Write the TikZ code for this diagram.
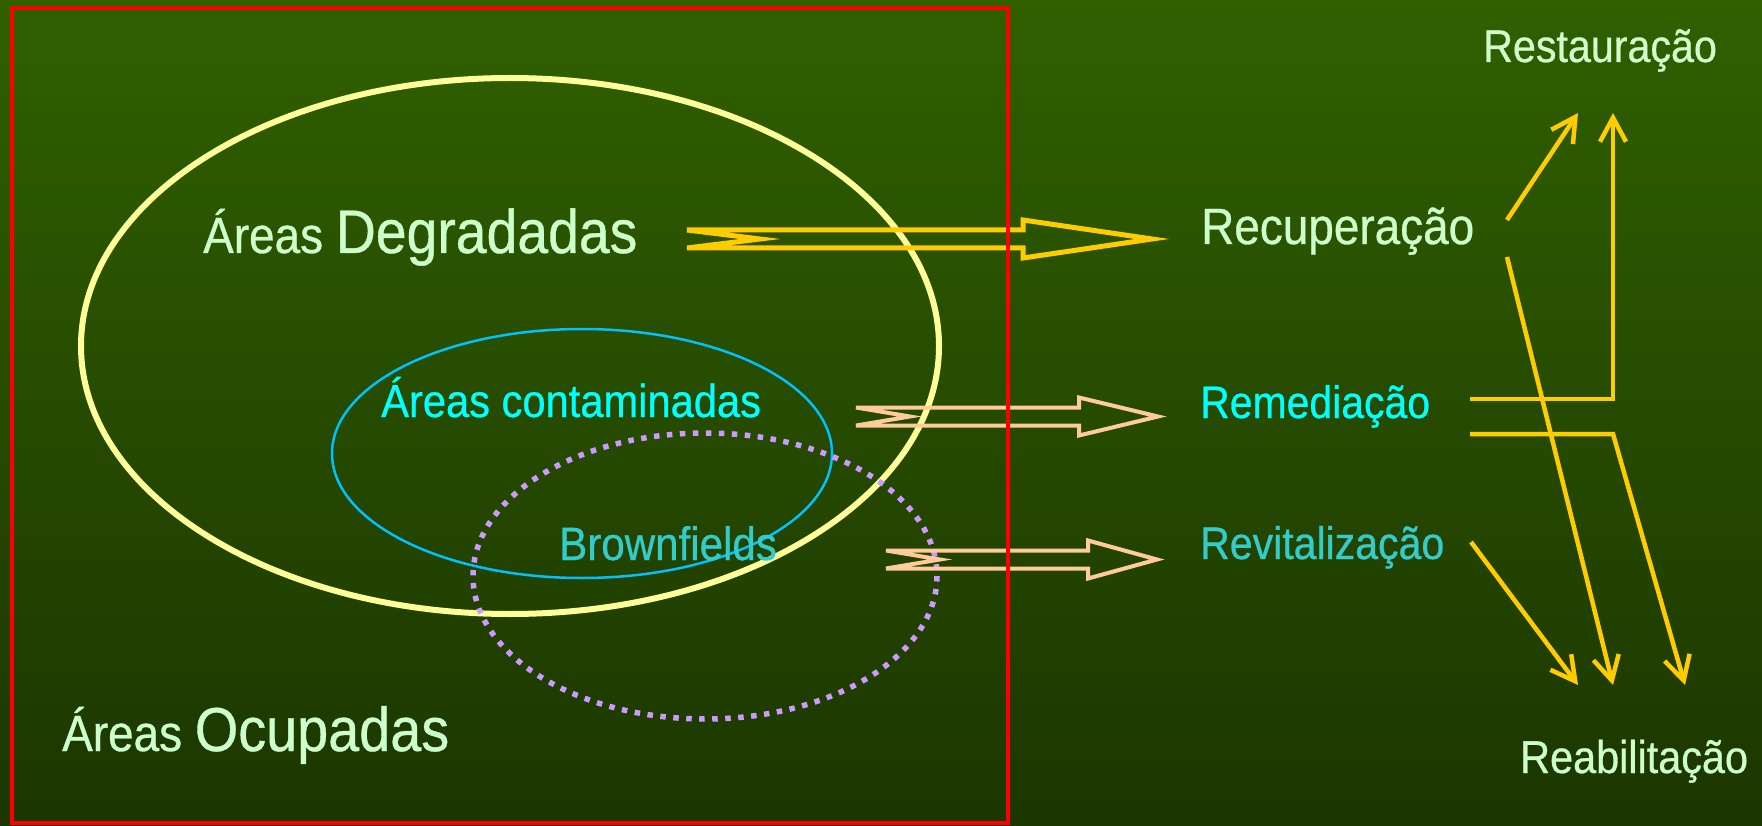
\documentclass[tikz,border=0pt]{standalone}
\usepackage{fontspec}
\setmainfont[FakeStretch=0.9, FakeBold=0.6]{Liberation Sans}
\usepackage{tikz}
\usetikzlibrary{arrows.meta}
\usetikzlibrary{calc}
\usetikzlibrary{positioning}
\definecolor{fundocima}{RGB}{48,96,0}
\definecolor{fundobaixo}{RGB}{28,54,0}
\definecolor{verdeclaro}{HTML}{CCFFCC}
\definecolor{amarelo}{HTML}{FFCC00}
\definecolor{amareloclaro}{HTML}{FFFF99}
\definecolor{pessego}{HTML}{FFCC99}
\definecolor{lilas}{HTML}{CC99FF}
\definecolor{azul}{HTML}{00C0FF}
\definecolor{ciano}{HTML}{00FFFF}
\definecolor{turquesa}{HTML}{33CCCC}
\newcommand{\tam}[1]{\fontsize{#1}{#1}\selectfont}
\newcommand{\blocoseta}[5]{%
  \draw [#1] ($(#2)+(0,-9)$) -- ($(#3)+(-#4,-9)$) -- ($(#3)+(-#4,-19)$) -- (#3)
    -- ($(#3)+(-#4,19)$) -- ($(#3)+(-#4,9)$) -- ($(#2)+(0,9)$) -- ($(#2)+(#5,0)$) -- cycle;}
\tikzset{rotulo/.style = {anchor=base west, inner sep=0pt, text=verdeclaro},
         seta/.style = {draw=amarelo, line width=4.5pt, line join=miter,
                        -{Straight Barb[length=24pt, width=26pt]}},
         bloco/.style = {line width=4pt, line join=miter}}

\begin{document}
\begin{tikzpicture}[x=1pt, y=-1pt]
  \useasboundingbox (0,0) rectangle (1762,826);
  \fill [top color=fundocima, bottom color=fundobaixo] (0,0) rectangle (1762,826);

  \draw [amareloclaro, line width=6pt] (510,346) ellipse [x radius=429, y radius=268];
  \draw [azul, line width=2.5pt] (582,453.5) ellipse [x radius=250, y radius=124.5];
  \draw [lilas, line width=5.5pt, dash pattern=on 5.5pt off 7.5pt] (705,576) ellipse [x radius=232, y radius=143];

  \node [rotulo] (degradadas) at (203,253) {\tam{51}Áreas \tam{61.5}Degradadas};
  \node [rotulo] (ocupadas) at (62,751) {\tam{51}Áreas \tam{62}Ocupadas};
  \node [rotulo, text=ciano] (contaminadas) at (381,417) {\tam{46.3}Áreas contaminadas};
  \node [rotulo, text=turquesa] (brownfields) at (559,560) {\tam{46.8}Brownfields};
  \node [rotulo] (recuperacao) at (1201,244) {\tam{51}Recuperação};
  \node [rotulo, text=ciano] (remediacao) at (1200,418) {\tam{45.5}Remediação};
  \node [rotulo, text=turquesa] (revitalizacao) at (1200,559) {\tam{45.6}Revitalização};
  \node [rotulo] (restauracao) at (1483,62) {\tam{45.8}Restauração};
  \node [rotulo] (reabilitacao) at (1520,773) {\tam{46}Reabilitação};

  \coordinate (d1) at (687,239);
  \coordinate (d2) at (1152,239);
  \coordinate (c1) at (856,416.5);
  \coordinate (c2) at (1158,416.5);
  \coordinate (b1) at (886,559.5);
  \coordinate (b2) at (1157,559.5);
  \blocoseta{bloco, amarelo, line width=5pt}{d1}{d2}{129}{73}
  \blocoseta{bloco, pessego}{c1}{c2}{79}{54}
  \blocoseta{bloco, pessego}{b1}{b2}{69}{54}

  \coordinate (recA) at (1507,220);
  \coordinate (recB) at (1507,257);
  \coordinate (remA) at (1470,399);
  \coordinate (remB) at (1470,434);
  \coordinate (canto) at (1613,434);
  \coordinate (revA) at (1471,542);
  \coordinate (restA) at (1578,113);
  \coordinate (restB) at (1613,113);
  \coordinate (reabA) at (1578,685);
  \coordinate (reabB) at (1613,685);
  \coordinate (reabC) at (1685,685);
  \draw [seta] (recA) -- (restA);
  \draw [seta] (remA) -| (restB);
  \draw [seta] (remB) -- (canto) -- (reabC);
  \draw [seta] (recB) -- (reabB);
  \draw [seta] (revA) -- (reabA);

  \draw [red, line width=4.5pt] (12,8) rectangle (1008,823);
\end{tikzpicture}
\end{document}
